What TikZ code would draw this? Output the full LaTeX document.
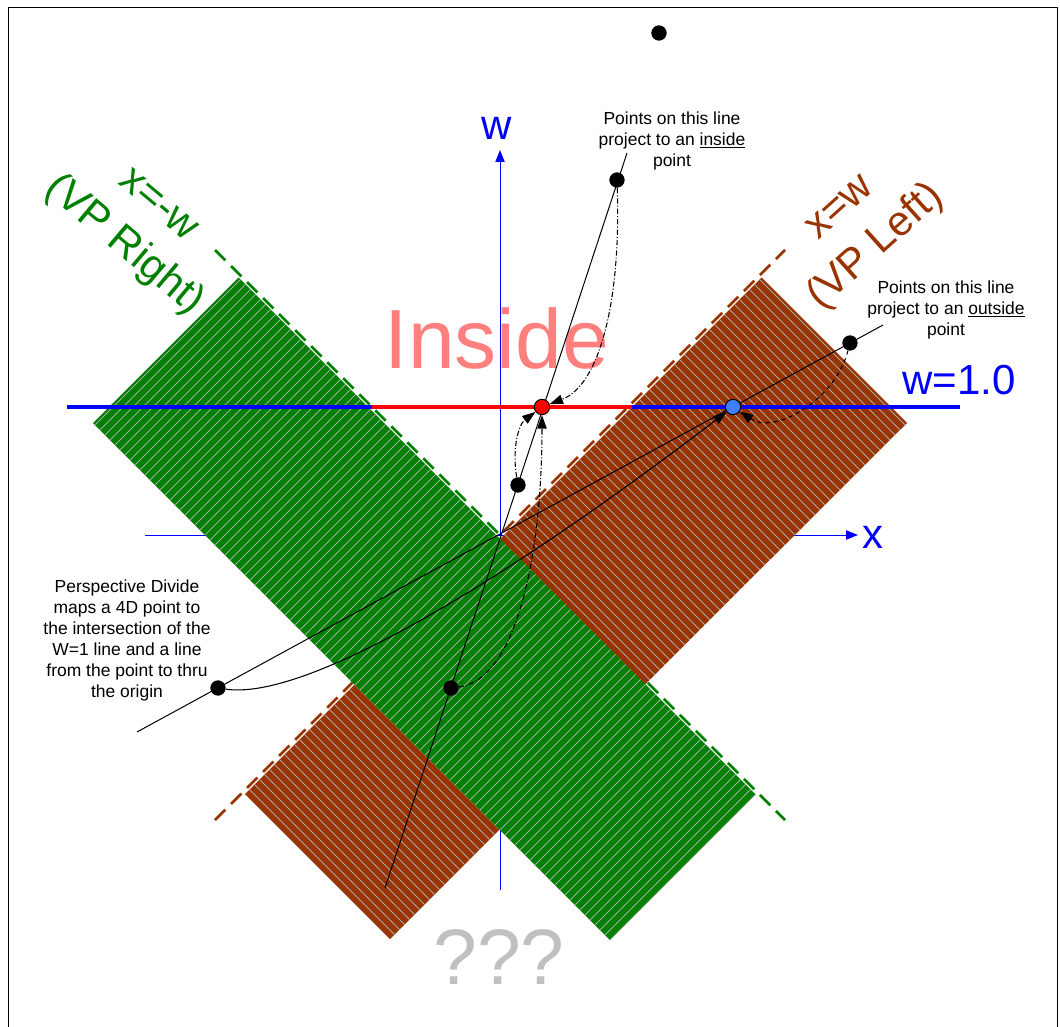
\documentclass[tikz,border=0pt]{standalone}
\usepackage{fontspec}
\setmainfont{Liberation Sans}
\usetikzlibrary{arrows.meta,positioning}
\definecolor{vpgreen}{HTML}{008000}
\definecolor{vpbrown}{HTML}{993300}
\definecolor{axisblue}{HTML}{0000FF}
\definecolor{insidepink}{HTML}{FF7F7F}
\definecolor{qgray}{HTML}{C0C0C0}
\definecolor{hatchgray}{HTML}{A8A8A8}
\definecolor{dotblue}{HTML}{3F7FFF}

\begin{document}
\begin{tikzpicture}[x=0.75pt, y=-0.75pt,
  axis/.style={draw=axisblue, line width=0.75pt, -{Triangle[length=9pt,width=7pt]}},
  vpedge/.style={line width=2pt, dash pattern=on 11pt off 6pt},
  hatch/.style={draw=hatchgray, line width=0.7pt},
  wline/.style={line width=3pt},
  dot/.style={circle, fill=black, inner sep=0pt, minimum size=11.5pt},
  hitdot/.style={circle, draw=black, line width=0.75pt, inner sep=0pt, minimum size=11.5pt},
  proj/.style={line width=0.75pt},
  arr/.style={line width=0.8pt, -{Triangle[length=10pt,width=7pt]}},
  dashdotline/.style={dash pattern=on 4pt off 1.5pt on 0.8pt off 1.5pt},
  note/.style={font=\fontsize{13.1}{15.75}\selectfont, align=center},
  biglbl/.style={font=\fontsize{31.5}{40}\selectfont, align=center}]

\useasboundingbox (0,0) rectangle (1060,1027);
\draw[line width=0.75pt] (8,8) rectangle (1057,1040);

\coordinate (O) at (500,535);
\coordinate (wtop) at (500,150);
\coordinate (wbot) at (500,890);
\coordinate (xleft) at (145,535);
\coordinate (xright) at (858,535);
\draw[axis] (wbot) -- (wtop);
\draw[axis] (xleft) -- (xright);

\draw[vpedge, draw=vpbrown] (215,820) -- (785,250);
\draw[vpedge, draw=vpgreen] (215,250) -- (785,820);

\begin{scope}
  \clip (761.5,277.5) -- (907,423) -- (390,939) -- (245,794) -- cycle;
  \fill[vpbrown] (0,0) rectangle (1060,1027);
  \foreach \d in {-490,-480,...,560}
    \draw[hatch] (0,\d) -- (1060,{1060+\d});
\end{scope}
\begin{scope}
  \clip (238.5,277.5) -- (93,423) -- (610,940) -- (755.5,794.5) -- cycle;
  \fill[vpgreen] (0,0) rectangle (1060,1027);
  \foreach \c in {510,520,...,1560}
    \draw[hatch] (\c,0) -- ({\c-1060},1060);
\end{scope}

\coordinate (wA) at (67,407);
\coordinate (wB) at (960,407);
\coordinate (inL) at (372,407);
\coordinate (inR) at (632,407);
\draw[wline, draw=axisblue] (wA) -- (wB);
\draw[wline, draw=red] (inL) -- (inR);

\node[font=\fontsize{31.5}{40}\selectfont, text=axisblue] (wlbl) at (497,128) {w};
\node[font=\fontsize{31.5}{40}\selectfont, text=axisblue] (xlbl) at (873,537) {x};
\node[font=\fontsize{31.5}{40}\selectfont, text=axisblue] (w1lbl) at (959,380) {w=1.0};
\node[font=\fontsize{63}{68}\selectfont, text=insidepink] (insidelbl) at (497,338) {Inside};
\node[font=\fontsize{59}{62}\selectfont, text=qgray] (qlbl) at (499,957) {???};
\node[biglbl, text=vpgreen, rotate=-40] (rightlbl) at (139,228) {x=-w\\(VP Right)};
\node[biglbl, text=vpbrown, rotate=42] (leftlbl) at (860.5,230) {x=w\\(VP Left)};

\node[note] (innote) at (672,141) {Points on this line\\project to an \underline{inside}\\point};
\node[note] (outnote) at (946,310) {Points on this line\\project to an \underline{outside}\\point};
\node[note] (pdnote) at (127,640) {Perspective Divide\\maps a 4D point to\\the intersection of the\\W=1 line and a line\\from the point to thru\\the origin};

\coordinate (inA) at (385,888);
\coordinate (inB) at (627,153);
\coordinate (outA) at (137,732);
\coordinate (outB) at (883,325);
\draw[proj] (inA) -- (inB);
\draw[proj] (outA) -- (outB);

\node[dot] (far) at (659,33) {};
\node[dot] (inpA) at (617,180) {};
\node[dot] (inpB) at (518,485) {};
\node[dot] (inpC) at (451,688) {};
\node[dot] (pdpt) at (218,688) {};
\node[dot] (outp) at (850,343) {};
\node[hitdot, fill=red] (inhit) at (542,407) {};
\node[hitdot, fill=dotblue] (outhit) at (733,407) {};

\draw[arr, dashdotline] (inpA) .. controls (621,300) and (600,385) .. (inhit);
\draw[arr, dashdotline] (inpB) .. controls (512,450) and (518,425) .. (inhit);
\draw[arr, dashdotline] (inpC) .. controls (515,680) and (542,560) .. (inhit);
\draw[arr, dashed] (outp) .. controls (835,400) and (775,435) .. (outhit);
\draw[arr] (pdpt) .. controls (300,700) and (480,600) .. (outhit);
\end{tikzpicture}
\end{document}
